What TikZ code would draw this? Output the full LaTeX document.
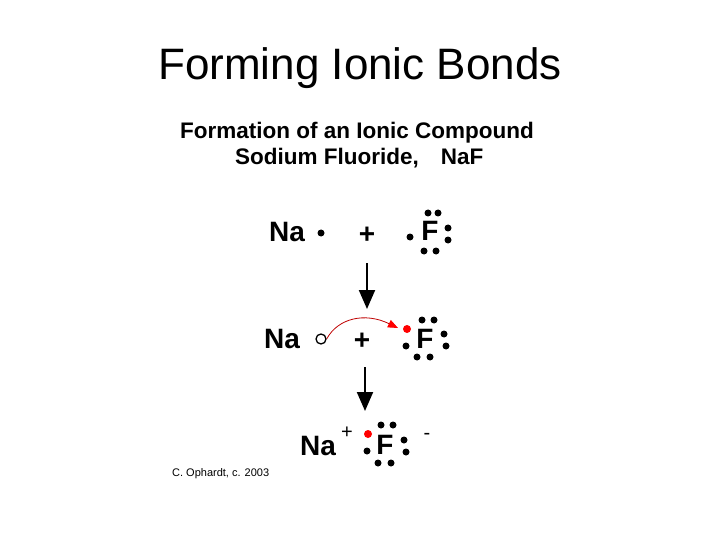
\documentclass[tikz,border=0pt]{standalone}
\usepackage{fontspec}
\setmainfont{Liberation Sans}
\usetikzlibrary{arrows.meta}
\begin{document}
\begin{tikzpicture}[x=1pt,y=-1pt,
  el/.style={circle,fill=black,inner sep=0pt,minimum size=7pt},
  red el/.style={circle,fill=red,inner sep=0pt,minimum size=8pt},
  sym/.style={font=\bfseries\fontsize{28}{30}\selectfont,inner sep=0pt},
  pl/.style={font=\bfseries\fontsize{28}{30}\selectfont,inner sep=0pt},
  bigarrow/.style={line width=2pt,-{Triangle[length=19pt,width=16pt]}}]
\useasboundingbox (0,0) rectangle (720,540);
\node (title) at (360,68) {\fontsize{44}{48}\selectfont Forming Ionic Bonds};
\node (sub1) at (357,133) {\bfseries\fontsize{22.5}{26}\selectfont Formation of an Ionic Compound};
\node[anchor=west,inner sep=0pt] (sub2) at (235,158) {\bfseries\fontsize{22.5}{26}\selectfont Sodium Fluoride,\hspace{22pt}NaF};
% row 1
\node[sym,anchor=west] (na1) at (269,232) {Na};
\node[el] (e1) at (321,233) {};
\node[pl] (p1) at (367,235) {+};
\node[sym] (f1) at (430,231) {F};
\foreach \p in {(410,237),(428,213),(438,213),(448,228),(448,240),(424,251),(436,251)} \node[el] at \p {};
\coordinate (a1s) at (367,263);
\coordinate (a1e) at (367,309);
\draw[bigarrow] (a1s) -- (a1e);
% row 2
\node[sym,anchor=west] (na2) at (264,339) {Na};
\node[circle,draw,line width=1.3pt,inner sep=0pt,minimum size=10pt] (hole) at (321,339) {};
\node[pl] (p2) at (362,341) {+};
\node[sym] (f2) at (425,339) {F};
\node[red el] (r2) at (407,329) {};
\foreach \p in {(406,346),(422,320),(434,320),(444,334),(446,346),(417,357),(430,357)} \node[el] at \p {};
\draw[red!75!black,line width=0.8pt,-{Triangle[length=10pt,width=8pt,fill=red,color=red]}] (hole.east) .. controls (338,318) and (365,312) .. (398,328);
\coordinate (a2s) at (365,367);
\coordinate (a2e) at (365,411);
\draw[bigarrow] (a2s) -- (a2e);
% row 3
\node[sym,anchor=west] (na3) at (300,446) {Na};
\node[font=\fontsize{20}{22}\selectfont] (plus3) at (347,433) {+};
\node[red el] (r3) at (368,434) {};
\node[sym] (f3) at (385,445) {F};
\foreach \p in {(367,451),(381,425),(393,425),(404,440),(406,452),(378,463),(391,463)} \node[el] at \p {};
\node[font=\fontsize{20}{22}\selectfont] (minus3) at (427,436) {-};
\node[anchor=west,inner sep=0pt,font=\fontsize{11}{12}\selectfont] (credit) at (172,474) {C. Ophardt, c. 2003};
\end{tikzpicture}
\end{document}
